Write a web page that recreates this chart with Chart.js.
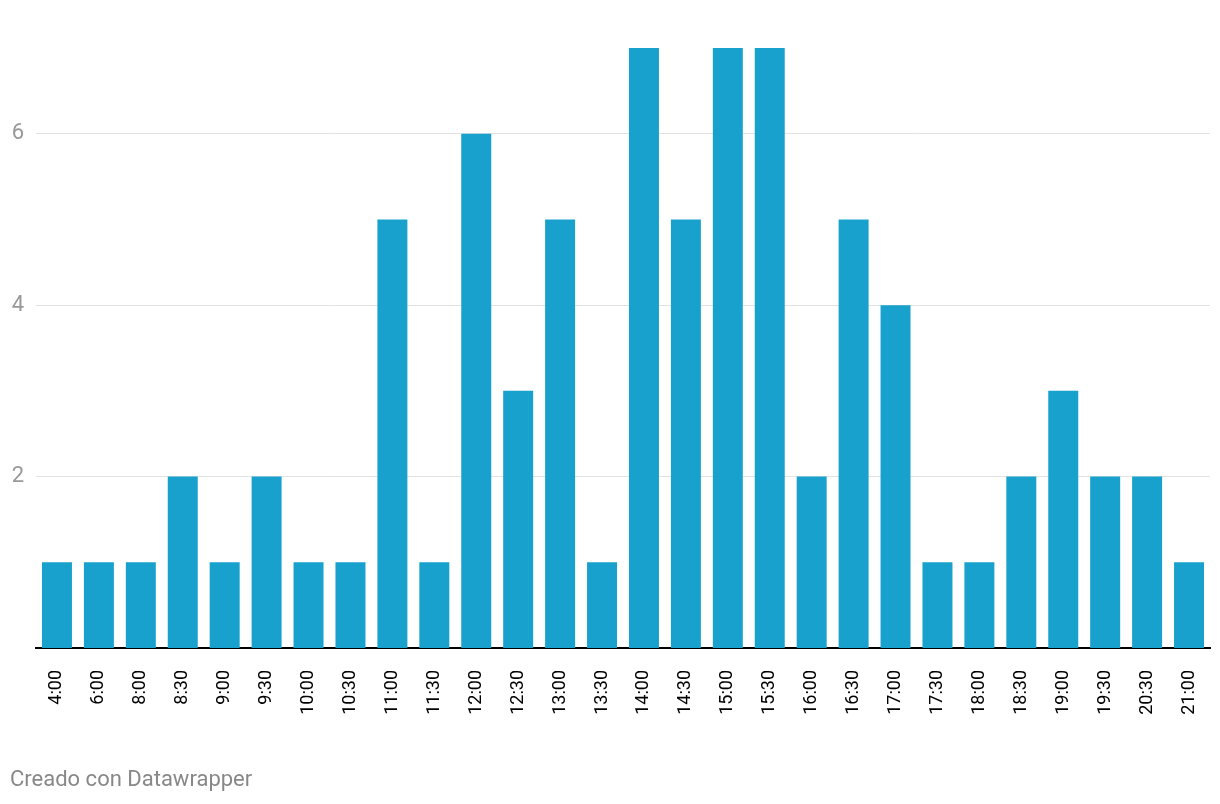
<!DOCTYPE html>
<html>
<head>
<meta charset="utf-8">
<script src="https://cdn.jsdelivr.net/npm/chart.js@4/dist/chart.umd.min.js"></script>
<style>
    html, body { margin: 0; padding: 0; background: #fff; }
    #wrap { position: relative; width: 1220px; height: 804px; }
    #footer {
        position: absolute; left: 10px; top: 768px; line-height: 22px;
        font-family: Roboto, sans-serif; font-size: 22px; color: #888;
    }
</style>
</head>
<body>
<div id="wrap">
    <canvas id="timesChart" width="1220" height="804"></canvas>
    <div id="footer">Creado con Datawrapper</div>
</div>
<script>
// horas y cantidades
const hours = ['4:00', '6:00', '8:00', '8:30', '9:00', '9:30', '10:00', '10:30', '11:00', '11:30',
    '12:00', '12:30', '13:00', '13:30', '14:00', '14:30', '15:00', '15:30', '16:00', '16:30',
    '17:00', '17:30', '18:00', '18:30', '19:00', '19:30', '20:30', '21:00'];
const counts = [1, 1, 1, 2, 1, 2, 1, 1, 5, 1, 6, 3, 5, 1, 7, 5, 7, 7, 2, 5, 4, 1, 1, 2, 3, 2, 2, 1];
const yTicks = [2, 4, 6];

function renderTimesChart() {
    const ctx = document.getElementById('timesChart').getContext('2d');
    return new Chart(ctx, {
        type: 'bar',
        data: {
            labels: hours,
            datasets: [{
                data: counts,
                backgroundColor: '#18a1cd',
                barPercentage: 0.715,
                categoryPercentage: 1.0,
            }]
        },
        options: {
            responsive: false,
            animation: false,
            layout: { padding: { top: 48, right: 10, left: 0, bottom: 0 } },
            plugins: {
                legend: { display: false },
                tooltip: { enabled: false }
            },
            scales: {
                x: {
                    grid: { display: false },
                    border: { display: true, color: '#000', width: 2 },
                    ticks: {
                        minRotation: 90, maxRotation: 90, padding: 14,
                        color: '#000',
                        font: { family: 'Roboto', size: 18 }
                    },
                    afterFit: scale => {
                        scale.height = 156;
                        scale.paddingLeft = 0;
                        scale.paddingRight = 0;
                    }
                },
                y: {
                    min: 0, max: 7,
                    border: { display: false },
                    grid: { color: '#e2e2e2', lineWidth: 1, drawTicks: false },
                    ticks: {
                        padding: 12, color: '#999',
                        font: { family: 'Roboto', size: 22 }
                    },
                    afterBuildTicks: scale => { scale.ticks = yTicks.map(v => ({ value: v })); },
                    afterFit: scale => { scale.width = 36; }
                }
            }
        }
    });
}

renderTimesChart();
</script>
</body>
</html>
